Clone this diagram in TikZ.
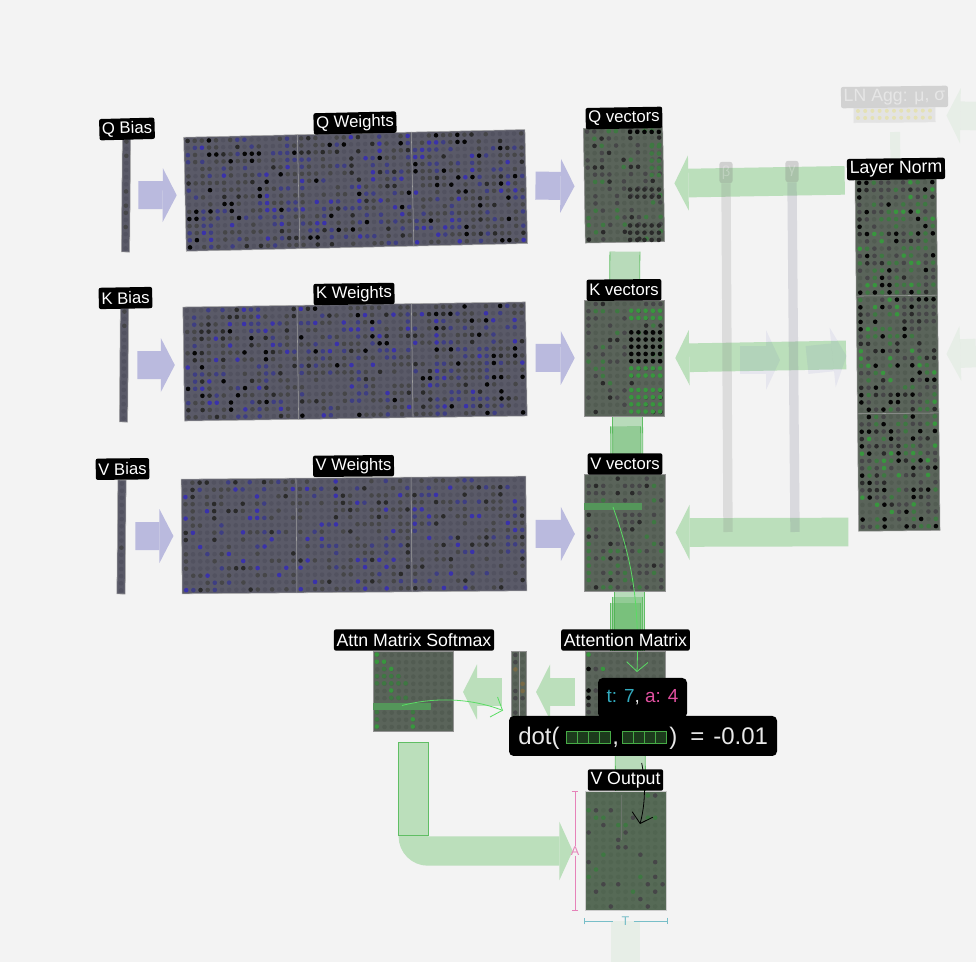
\documentclass[tikz,border=0pt]{standalone}
\usepackage{fontspec}
\setmainfont{Liberation Sans}
\usepackage{xcolor}
\usepackage{tikz}
\usetikzlibrary{arrows.meta,backgrounds,calc}
\definecolor{pagebg}{RGB}{243,243,243}
\definecolor{weightfill}{RGB}{90,90,104}
\definecolor{weightfaint}{RGB}{82,82,96}
\definecolor{vectorfill}{RGB}{90,100,90}
\definecolor{vectorfaint}{RGB}{82,92,82}
\definecolor{outputfill}{RGB}{86,106,86}
\definecolor{outputfaint}{RGB}{81,101,81}
\definecolor{dotgray}{RGB}{70,70,72}
\definecolor{dotdark}{RGB}{42,42,42}
\definecolor{dotblack}{RGB}{5,5,5}
\definecolor{dotblue}{RGB}{62,62,130}
\definecolor{dotbright}{RGB}{58,50,170}
\definecolor{dotmoss}{RGB}{62,120,66}
\definecolor{dotgreen}{RGB}{56,150,62}
\definecolor{dotbrown}{RGB}{120,105,70}
\definecolor{flowgreen}{RGB}{76,175,80}
\definecolor{flowpale}{RGB}{187,223,187}
\definecolor{edgegreen}{RGB}{96,190,100}
\definecolor{wiregreen}{RGB}{90,220,100}
\definecolor{flowblue}{RGB}{63,63,181}
\definecolor{bluepale}{RGB}{186,186,222}
\definecolor{rowgreen}{RGB}{84,150,90}
\definecolor{dimpink}{RGB}{230,130,185}
\definecolor{dimteal}{RGB}{120,190,200}
\definecolor{tipteal}{RGB}{50,170,190}
\definecolor{tippink}{RGB}{225,80,160}
\definecolor{tipwhite}{RGB}{232,232,232}
\definecolor{minigreen}{RGB}{70,170,70}
\definecolor{minidark}{RGB}{28,58,28}
\tikzset{
  tensorlabel/.style={fill=black,text=white,rounded corners=1.5pt,font=\fontsize{13.3}{14}\selectfont,inner xsep=2pt,inner ysep=0pt,minimum height=16pt},
  shortlabel/.style={tensorlabel,font=\fontsize{12.5}{14}\selectfont},
  weightmat/.style={draw=gray!70,thin,fill=weightfill,inner sep=0pt},
  vectormat/.style={draw=gray!85,thin,fill=vectorfill,inner sep=0pt},
  matdiv/.style={draw=gray!75,thin},
  biasflow/.style={draw=bluepale,line width=21pt,-{Triangle[length=10.5pt,width=40.5pt,line width=0pt]}},
  normflow/.style={draw=flowpale,line width=21.5pt,-{Triangle[length=10.5pt,width=41.5pt,line width=0pt]}},
  fadeblue/.style={draw=flowblue,draw opacity=.07,fill opacity=.07,line width=21pt,-{Triangle[length=10.5pt,width=45pt,line width=0pt]}},
  fadegreen/.style={draw=flowgreen,draw opacity=.07,fill opacity=.07,line width=21.5pt,-{Triangle[length=10.5pt,width=41.5pt,line width=0pt]}},
  streambody/.style={draw=flowgreen,draw opacity=.35,line width=22pt},
  streamedge/.style={draw=edgegreen,line width=.6pt},
  gatebar/.style={draw=gray,draw opacity=.2,line width=7pt},
  gatelabel/.style={fill=gray,fill opacity=.3,text=white,text opacity=.25,rounded corners=2pt,minimum width=10pt,minimum height=16pt,inner sep=0pt,font=\fontsize{11}{12}\selectfont},
  wirearrow/.style={draw=wiregreen,line width=.6pt,-{Straight Barb[length=7pt,width=16pt]}},
  blackwire/.style={draw=black,line width=.6pt,-{Straight Barb[length=7pt,width=16pt]}},
  tipbox/.style={fill=black,rounded corners=3.5pt,inner sep=0pt},
  tiptext/.style={text=tipwhite,anchor=base west,inner sep=0pt,font=\fontsize{18}{20}\selectfont},
  minicell/.style={draw=minigreen,fill=minidark,line width=.7pt},
  dimtext/.style={inner sep=0pt,font=\fontsize{9.5}{10}\selectfont}
}
% colour of one grid cell, by a number from 0 to 11
\newcommand{\weightpal}[1]{\ifcase#1 weightfaint\or weightfaint\or weightfaint\or weightfaint\or dotgray\or dotgray\or dotgray\or dotdark\or dotblack\or dotblue\or dotblue\or dotbright\fi}
\newcommand{\paleweightpal}[1]{\ifcase#1 weightfaint\or weightfaint\or weightfaint\or weightfaint\or weightfaint\or weightfaint\or dotgray\or dotgray\or dotgray\or dotdark\or dotblue\or dotbright\fi}
\newcommand{\vectorpal}[1]{\ifcase#1 vectorfaint\or vectorfaint\or vectorfaint\or dotgray\or dotgray\or dotgray\or dotdark\or dotblack\or dotblack\or dotmoss\or dotmoss\or dotgreen\fi}
\newcommand{\palevecpal}[1]{\ifcase#1 vectorfaint\or vectorfaint\or vectorfaint\or vectorfaint\or vectorfaint\or dotgray\or dotgray\or dotgray\or dotdark\or dotmoss\or dotmoss\or vectorfaint\fi}
\newcommand{\paleoutpal}[1]{\ifcase#1 outputfaint\or outputfaint\or outputfaint\or outputfaint\or outputfaint\or outputfaint\or outputfaint\or outputfaint\or dotgray\or dotgray\or dotmoss\or outputfaint\fi}
\newcommand{\softpal}[1]{vectorfaint}
\newcommand{\barpal}[1]{\ifcase#1 vectorfaint\or vectorfaint\or vectorfaint\or dotgray\or dotgray\or dotgray\or dotbrown\or dotbrown\or vectorfaint\or dotgray\or vectorfaint\or dotbrown\fi}
\newcommand{\biaspal}[1]{\ifcase#1 weightfaint\or weightfaint\or weightfaint\or weightfaint\or dotgray\or weightfaint\or weightfaint\or dotgray\or weightfaint\or weightfaint\or weightfaint\or weightfaint\fi}
% node, angle, columns, rows, step, palette, seed
\newcommand{\matdots}[7]{%
  \begin{scope}[shift={(#1.center)},rotate=#2]
    \pgfmathsetseed{#7}
    \foreach \c in {1,...,#3}{\foreach \r in {1,...,#4}{
      \pgfmathtruncatemacro{\k}{rnd*12}
      \edef\dc{#6{\k}}
      \fill[\dc] ({(\c-(#3+1)/2)*#5},{(\r-(#4+1)/2)*#5}) circle[radius=2.3];
    }}
  \end{scope}}
% node, first and last column, first and last row, colour
\newcommand{\matblock}[6]{%
  \begin{scope}[shift={(#1.north west)}]
    \foreach \c in {#2,...,#3}{\foreach \r in {#4,...,#5}{
      \fill[#6] ({\c*7.2-3.4},{\r*7.2-3.4}) circle[radius=2.3];
    }}
  \end{scope}}
% from, to, x offset, gap at the start
\newcommand{\stream}[4]{%
  \draw[streambody,shorten <=#4*.75pt] ([shift={(#3,0)}]#1) -- ([shift={(#3,0)}]#2);
  \draw[streamedge,shorten <=#4*.75pt] ([shift={(#3-15,0)}]#1) -- ([shift={(#3-15,0)}]#2);
  \draw[streamedge,shorten <=#4*.75pt] ([shift={(#3+15,0)}]#1) -- ([shift={(#3+15,0)}]#2);}
\begin{document}
\begin{tikzpicture}[x=.75pt,y=-.75pt]
\useasboundingbox (0,0) rectangle (976,962);
% tensors
\node[weightmat,rotate=-.5,minimum width=6.2pt,minimum height=85.5pt] (qb) at (126,195) {};
\node[weightmat,rotate=-.5,minimum width=6.2pt,minimum height=85.5pt] (kb) at (124,365) {};
\node[weightmat,rotate=-.5,minimum width=6.2pt,minimum height=85.5pt] (vb) at (121.5,537) {};
\node[weightmat,rotate=1.3,minimum width=256pt,minimum height=85.5pt] (qw) at (355.6,190.4) {};
\node[weightmat,rotate=.85,minimum width=257pt,minimum height=85.5pt] (kw) at (355,361.5) {};
\node[weightmat,rotate=.5,minimum width=258.5pt,minimum height=86pt] (vw) at (354,535) {};
\node[vectormat,rotate=1,minimum width=59.5pt,minimum height=86pt] (qv) at (624,185) {};
\node[vectormat,minimum width=60pt,minimum height=87pt] (kv) at (624.5,358) {};
\node[vectormat,minimum width=60.5pt,minimum height=87.5pt] (vv) at (625,533) {};
\node[vectormat,rotate=.6,minimum width=61pt,minimum height=264.5pt] (ln) at (897.5,354.5) {};
\node[vectormat,minimum width=60pt,minimum height=60pt] (att) at (625,691) {};
\node[vectormat,minimum width=60pt,minimum height=60pt] (soft) at (413.3,691) {};
\node[vectormat,minimum width=11pt,minimum height=60pt] (bars) at (519,691) {};
\node[vectormat,draw=gray!40,fill=outputfill,minimum width=61pt,minimum height=89pt] (vout) at (625.6,851) {};
\node[draw=gray!20,fill=gray!22,rotate=.6,inner sep=0pt,minimum width=61pt,minimum height=11pt] (agg) at (894.5,115) {};
% the dots of each tensor
\matdots{qb}{-.5}{1}{16}{7.12}{\biaspal}{11}
\matdots{kb}{-.5}{1}{16}{7.12}{\biaspal}{12}
\matdots{vb}{-.5}{1}{16}{7.12}{\biaspal}{13}
\matdots{qw}{1.3}{48}{16}{7.1}{\weightpal}{21}
\matdots{kw}{.85}{48}{16}{7.12}{\weightpal}{22}
\matdots{vw}{.5}{48}{16}{7.16}{\paleweightpal}{23}
\matdots{qv}{1}{11}{16}{7.2}{\palevecpal}{31}
\matdots{kv}{0}{11}{16}{7.2}{\palevecpal}{32}
\matdots{vv}{0}{11}{16}{7.25}{\palevecpal}{33}
\matdots{ln}{.6}{11}{48}{7.32}{\vectorpal}{34}
\matdots{att}{0}{11}{11}{7.2}{\softpal}{35}
\matdots{soft}{0}{11}{11}{7.2}{\softpal}{36}
\matdots{bars}{0}{2}{11}{7.2}{\barpal}{37}
\matdots{vout}{0}{11}{16}{7.4}{\paleoutpal}{38}
% denser blocks of the vectors
\matblock{qv}{7}{11}{1}{1}{dotblack}
\matblock{qv}{7}{11}{9}{10}{dotdark}
\matblock{qv}{7}{11}{14}{16}{dotdark}
\matblock{qv}{10}{11}{3}{7}{dotmoss}
\matblock{kv}{7}{11}{2}{3}{dotgreen}
\matblock{kv}{7}{11}{5}{9}{dotblack}
\matblock{kv}{7}{11}{10}{11}{dotgreen}
\matblock{kv}{7}{11}{13}{16}{dotgreen}
% picked cells of the two attention tensors
\begin{scope}[shift={(att.north west)}]
\foreach \c/\r/\dc in {1/1/dotgreen,1/3/dotblack,2/3/dotgray,3/3/dotgreen,1/6/dotblack,2/6/dotgray,1/7/dotblack,1/8/dotdark,1/9/dotgray}{\fill[\dc] ({\c*7.2-3.4},{\r*7.2-3.4}) circle[radius=2.3];}
\end{scope}
\begin{scope}[shift={(soft.north west)}]
\foreach \c/\r/\dc in {1/1/dotgreen,1/2/dotgreen,2/2/dotgreen,2/3/dotmoss,3/3/dotgreen,1/4/dotmoss,2/4/dotmoss,3/4/dotmoss,4/4/dotmoss,1/5/dotmoss,2/5/dotmoss,3/5/dotmoss,4/5/dotmoss,5/5/dotmoss,3/6/dotgreen,3/7/dotmoss,4/7/dotmoss,5/7/dotmoss,1/9/dotmoss,6/9/dotmoss,1/10/dotmoss,6/10/dotgreen,1/11/dotgreen,6/11/dotgreen}{\fill[\dc] ({\c*7.2-3.4},{\r*7.2-3.4}) circle[radius=2.3];}
\end{scope}
\foreach \yy in {111,118}{\foreach \n in {0,...,10}{\fill[yellow!45!gray!45] (858+\n*7.2,\yy-.4*\n/10) circle[radius=2];}}
% block dividers
\draw[matdiv] ($(qw.north west)!1/3!(qw.north east)$) -- ($(qw.south west)!1/3!(qw.south east)$);
\draw[matdiv] ($(qw.north west)!2/3!(qw.north east)$) -- ($(qw.south west)!2/3!(qw.south east)$);
\draw[matdiv] ($(kw.north west)!1/3!(kw.north east)$) -- ($(kw.south west)!1/3!(kw.south east)$);
\draw[matdiv] ($(kw.north west)!2/3!(kw.north east)$) -- ($(kw.south west)!2/3!(kw.south east)$);
\draw[matdiv] ($(vw.north west)!1/3!(vw.north east)$) -- ($(vw.south west)!1/3!(vw.south east)$);
\draw[matdiv] ($(vw.north west)!2/3!(vw.north east)$) -- ($(vw.south west)!2/3!(vw.south east)$);
\draw[matdiv] ($(ln.north west)!1/3!(ln.south west)$) -- ($(ln.north east)!1/3!(ln.south east)$);
\draw[matdiv] ($(ln.north west)!2/3!(ln.south west)$) -- ($(ln.north east)!2/3!(ln.south east)$);
\draw[matdiv] (bars.north) -- (bars.south);
\draw[gray!50!outputfill,thin] ($(vout.north)+(-4,4)$) -- ++(0,45);
% highlighted rows
\fill[rowgreen] ($(vv.north west)+(0,29)$) rectangle ++(58,7);
\fill[rowgreen] ($(soft.north west)+(0,52)$) rectangle ++(58,7);
% flows behind the tensors
\begin{scope}[on background layer]
\fill[pagebg] (0,0) rectangle (976,962);
\stream{qv.south}{kv.north}{0}{9}
\stream{kv.south}{vv.north}{3}{0}
\stream{kv.south}{vv.north}{1}{10}
\stream{vv.south}{att.north}{4.5}{0}
\stream{vv.south}{att.north}{2}{5}
\stream{vv.south}{att.north}{0}{11}
\stream{att.south}{vout.north}{5}{0}
\coordinate (pageend) at (625.6,962);
\coordinate (aggfoot) at (895,132);
\draw[fadegreen,-] ([shift={(0,10)}]vout.south) -- (pageend);
\draw[fadegreen,-,line width=7.5pt] (aggfoot) -- (ln.north);
\coordinate (edgeq) at (976,116);
\coordinate (edgek) at (976,353);
\draw[fadegreen] (edgeq) -- ($(agg.east)+(11,1)$);
\draw[fadegreen] (edgek) -- ($(ln.east)+(8,0)$);
\end{scope}
% block arrows
\draw[biasflow] ($(qb.east)+(8,0)$) -- ($(qw.west)+(-8,1)$);
\draw[biasflow] ($(kb.east)+(9,0)$) -- ($(kw.west)+(-8.6,1)$);
\draw[biasflow] ($(vb.east)+(9.5,-1)$) -- ($(vw.west)+(-8,-.5)$);
\draw[biasflow] ($(qw.east)+(9,-1)$) -- ($(qv.west)+(-9.5,.5)$);
\draw[biasflow] ($(kw.east)+(9,-1)$) -- ($(kv.west)+(-9.5,0)$);
\draw[biasflow] ($(vw.east)+(9,.5)$) -- ($(vv.west)+(-9.5,1)$);
\draw[normflow] ($(ln.north west)+(-10,2)$) -- ($(qv.east)+(10.5,-1)$);
\draw[normflow] ($(ln.west)+(-10.5,0)$) -- ($(kv.east)+(10.5,0)$);
\draw[normflow] ($(ln.south west)+(-10,.5)$) -- ($(vv.east)+(10,-.5)$);
\draw[normflow] ($(att.west)+(-10,1)$) -- ($(bars.east)+(9.5,1)$);
\draw[normflow] ($(bars.west)+(-9.5,1)$) -- ($(soft.east)+(9.5,1)$);
\draw[normflow,line width=22pt,rounded corners=11pt,shorten <=8.25pt,shorten >=9pt,-{Triangle[length=10pt,width=44pt,line width=0pt]}] (soft.south) |- (vout.west);
\draw[streamedge] ($(soft.south)+(-15,11)$) rectangle ($(soft.south)+(15,104)$);
% the two gates
\node[gatelabel] (beta) at (726,172.5) {β};
\node[gatelabel] (gamma) at (792,171.5) {γ};
\coordinate (betaend) at (728,532);
\coordinate (gammaend) at (795,532);
\draw[gatebar] (beta.south) -- (betaend);
\draw[gatebar,draw=gray!90!blue] (gamma.south) -- (gammaend);
\draw[fadeblue] ($(beta |- kv)+(14,2)$) -- ($(gamma |- kv)+(-12,2)$);
\draw[fadeblue] ($(gamma |- kv)+(15,2)$) -- ($(ln.west)+(-10,1)$);
% thin arrows of the hovered cell
\coordinate (vvcell) at (613,507);
\coordinate (attcell) at (637,672);
\coordinate (softcell) at (402,705.5);
\coordinate (barscell) at (503,710.5);
\coordinate (attend) at (641.7,763);
\coordinate (outcell) at (640,824);
\draw[wirearrow] (vvcell) .. controls (628,550) and (640,590) .. (attcell);
\draw[wirearrow] (softcell) .. controls (435,697) and (470,698) .. (barscell);
\draw[blackwire] (attend) .. controls (646,785) and (645,805) .. (outcell);
% size marks
\node[dimtext,text=dimpink] (adim) at (575,851) {A};
\node[dimtext,text=dimteal] (tdim) at (625.6,921) {T};
\draw[draw=dimpink,line width=.6pt,{Bar[width=5pt]}-] (vout.north west -| adim) -- (adim);
\draw[draw=dimpink,line width=.6pt,-{Bar[width=5pt]}] (adim) -- (vout.south west -| adim);
\draw[draw=dimteal,line width=.6pt,{Bar[width=5pt]}-] ($(vout.south west |- tdim)+(-1,0)$) -- ($(tdim)+(-13,0)$);
\draw[draw=dimteal,line width=.6pt,-{Bar[width=5pt]}] ($(tdim)+(8,0)$) -- ($(vout.south east |- tdim)+(1,0)$);
% labels
\node[shortlabel,rotate=1.5] (qblab) at (127,129) {Q Bias};
\node[shortlabel,rotate=1] (kblab) at (125.5,298) {K Bias};
\node[shortlabel,rotate=.6] (vblab) at (122.5,469) {V Bias};
\node[shortlabel,rotate=1.3] (qwlab) at (355,123) {Q Weights};
\node[shortlabel,rotate=.8] (kwlab) at (354,294) {K Weights};
\node[shortlabel,rotate=.5] (vwlab) at (353.5,466) {V Weights};
\node[shortlabel,rotate=1] (qvlab) at (624,118) {Q vectors};
\node[shortlabel,rotate=.5] (kvlab) at (624,290) {K vectors};
\node[shortlabel] (vvlab) at (625,464) {V vectors};
\node[tensorlabel,rotate=.8] (lnlab) at (896,169) {Layer Norm};
\node[tensorlabel] (softlab) at (414,640) {Attn Matrix Softmax};
\node[tensorlabel] (attlab) at (625.5,640) {Attention Matrix};
\node[tensorlabel] (voutlab) at (625.5,780) {V Output};
\node[tensorlabel,fill=gray!35,text=white,text opacity=.45,rotate=.7] (agglab) at (894.5,97) {LN Agg: μ, σ};
% tooltip
\node[tipbox,minimum width=66.75pt,minimum height=30pt] (tiptop) at (642.5,698) {};
\node[tipbox,minimum width=201pt,minimum height=30pt] (tipbot) at (643,736) {};
\node[inner sep=0pt,font=\fontsize{14.2}{16}\selectfont] (tipcell) at (642.5,697) {{\color{tipteal}t: 7}{\color{tipwhite},} {\color{tippink}a: 4}};
\node[tiptext] (tipdot) at (518,745) {dot(};
\foreach \vx in {566,622.5}{\foreach \n in {0,1,2,3}{\draw[minicell] (\vx+\n*11,731) rectangle ++(11,12);}}
\node[tiptext] (tipcomma) at (612,745) {,};
\node[tiptext] (tipclose) at (669,745) {)};
\node[tiptext] (tipeq) at (690,745) {=};
\node[tiptext] (tipval) at (713,745) {-0.01};
\end{tikzpicture}
\end{document}
